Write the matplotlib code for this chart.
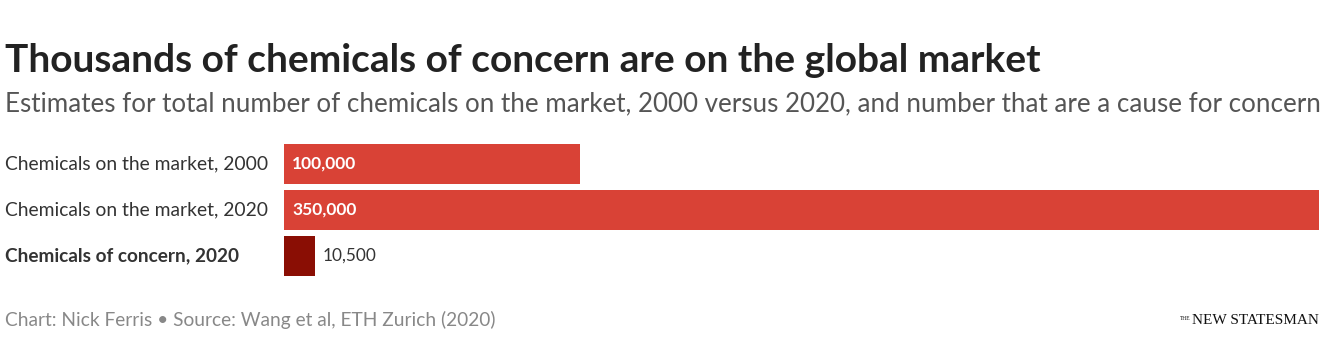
"""Bar chart: chemicals on the global market (New Statesman style)."""
import matplotlib.pyplot as plt

plt.rcParams["font.family"] = ["Lato", "DejaVu Sans"]

# dades
CATEGORIES = [
    "Chemicals on the market, 2000",
    "Chemicals on the market, 2020",
    "Chemicals of concern, 2020",
]
VALUES = [100000, 350000, 10500]
VALUE_LABELS = ["100,000", "350,000", "10,500"]

RED = "#d94236"
DARK_RED = "#8a0e04"
COLORS = [RED, RED, DARK_RED]

W, H = 1326, 351
fig = plt.figure(figsize=(W / 100, H / 100), dpi=100)
fig.patch.set_facecolor("white")

ax = fig.add_axes([284 / W, 1 - 279 / H, (1319 - 284) / W, 138 / H])
ys = list(range(len(CATEGORIES)))
ax.barh(ys, VALUES, height=0.87, color=COLORS)
ax.set_xlim(0, max(VALUES))
ax.set_ylim(len(CATEGORIES) - 0.5, -0.5)
ax.axis("off")

for y, v, lab, cat in zip(ys, VALUES, VALUE_LABELS, CATEGORIES):
    if v > 50000:
        ax.text(2700, y, lab, color="white", fontsize=12.5, fontweight="bold",
                va="center", ha="left")
    else:
        ax.text(v + 2700, y, lab, color="#333333", fontsize=12.4,
                va="center", ha="left")
    bold = "concern" in cat
    fig.text(5 / W, 1 - (164 + 46 * y) / H, cat,
             fontsize=13.7 if bold else 13.9,
             fontweight="bold" if bold else "normal", color="#333333",
             va="center", ha="left")

fig.text(5 / W, 1 - 61 / H, "Thousands of chemicals of concern are on the global market",
         fontsize=28, fontweight="bold", color="#222222", va="center", ha="left")
fig.text(5 / W, 1 - 104 / H,
         "Estimates for total number of chemicals on the market, 2000 versus 2020, "
         "and number that are a cause for concern",
         fontsize=18.7, color="#555555", va="center", ha="left")
fig.text(5 / W, 1 - 320 / H,
         "Chart: Nick Ferris \u2022 Source: Wang et al, ETH Zurich (2020)",
         fontsize=13.8, color="#888888", va="center", ha="left")

# logo
fig.text(1319 / W, 1 - 320 / H, "NEW STATESMAN", fontsize=11,
         family="Liberation Serif", color="#111111",
         va="center", ha="right")
fig.text(1191 / W, 1 - 318 / H, "THE", fontsize=4, family="Liberation Serif",
         color="#111111", va="center", ha="right")

fig.savefig("out.png", dpi=100, facecolor="white")
